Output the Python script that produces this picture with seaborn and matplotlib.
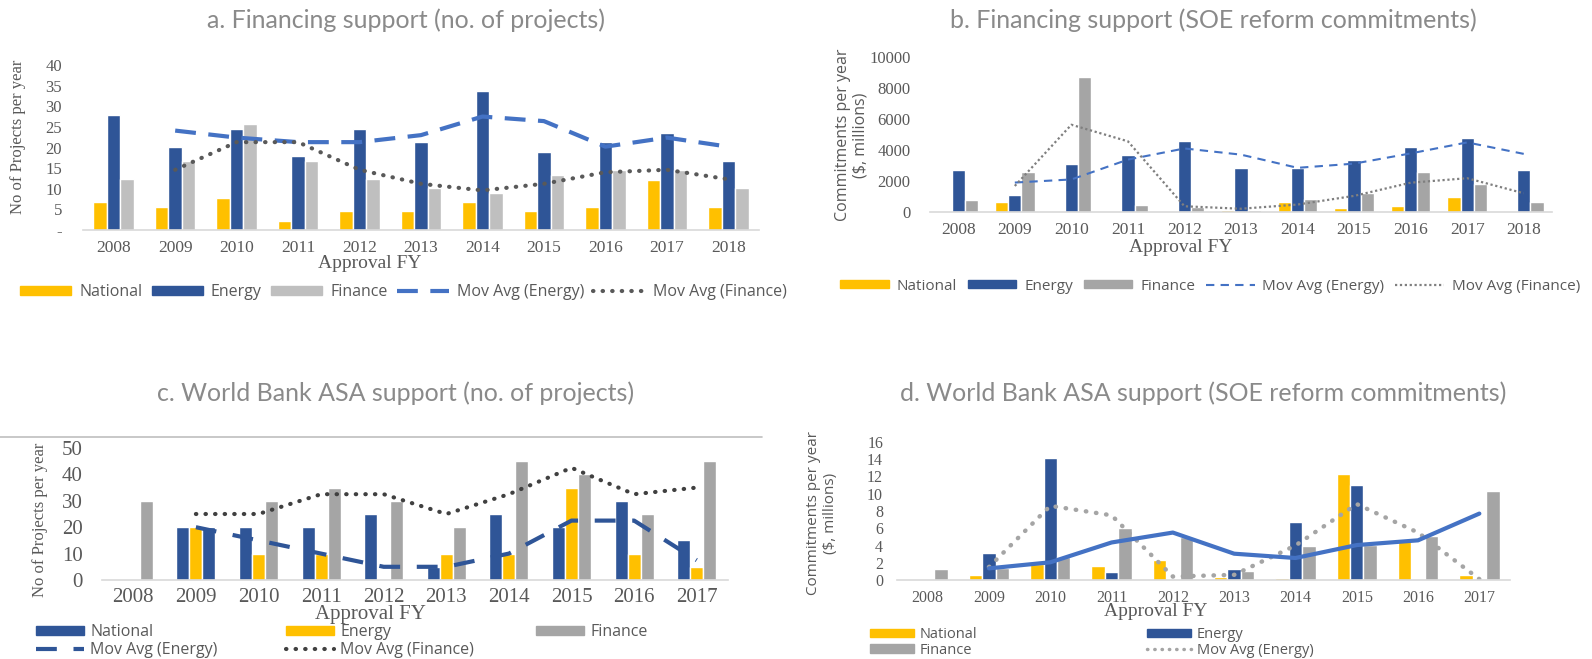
import numpy as np
import pandas as pd
import matplotlib
matplotlib.use("Agg")
import matplotlib.pyplot as plt
import seaborn as sns
from matplotlib.patches import Patch
from matplotlib.lines import Line2D

# -------------------------------
# Data
# -------------------------------
years_ab = ["2008", "2009", "2010", "2011", "2012", "2013", "2014", "2015", "2016", "2017", "2018"]
years_cd = ["2008", "2009", "2010", "2011", "2012", "2013", "2014", "2015", "2016", "2017"]
mov_years_ab = years_ab[1:]
mov_years_cd = years_cd[1:]

# a. Financing support (no. of projects)
a_national = [6.7, 5.6, 7.8, 2.2, 4.5, 4.5, 6.7, 4.5, 5.6, 12.2, 5.6]
a_energy = [28.0, 20.2, 24.6, 17.9, 24.6, 21.3, 33.7, 19.0, 21.3, 23.5, 16.8]
a_finance = [12.3, 16.8, 25.8, 16.8, 12.3, 10.1, 9.0, 13.4, 14.6, 14.6, 10.1]
a_mov_energy = [24.1, 22.4, 21.3, 21.3, 23.0, 27.5, 26.4, 20.2, 22.4, 20.2]
a_mov_finance = [14.6, 21.3, 21.3, 14.6, 11.2, 9.6, 11.2, 14.0, 14.6, 12.3]
a_yticks = [0, 5, 10, 15, 20, 25, 30, 35, 40]
a_yticklabels = ["-", "5", "10", "15", "20", "25", "30", "35", "40"]

# b. Financing support (SOE reform commitments, $ millions)
b_national = [80, 620, 80, 0, 0, 130, 620, 250, 400, 1000, 60]
b_energy = [2700, 1100, 3100, 3650, 4550, 2850, 2850, 3380, 4180, 4800, 2700]
b_finance = [800, 2550, 8700, 420, 320, 100, 850, 1230, 2550, 1800, 620]
b_mov_energy = [1900, 2100, 3380, 4100, 3700, 2850, 3120, 3780, 4490, 3750]
b_mov_finance = [1680, 5630, 4560, 370, 210, 480, 1040, 1890, 2180, 1210]
b_yticks = [0, 2000, 4000, 6000, 8000, 10000]

# c. World Bank ASA support (no. of projects)
c_national = [0, 20, 20, 20, 25, 5, 25, 20, 30, 15]
c_energy = [0, 20, 10, 10, 0, 10, 10, 35, 10, 5]
c_finance = [30, 20, 30, 35, 30, 20, 45, 40, 25, 45]
c_mov_energy = [20, 15, 10, 5, 5, 10, 22.5, 22.5, 7.5]
c_mov_finance = [25, 25, 32.5, 32.5, 25, 32.5, 42.5, 32.5, 35]
c_yticks = [0, 10, 20, 30, 40, 50]

# d. World Bank ASA support (SOE reform commitments, $ millions)
d_national = [0, 0.6, 1.8, 1.6, 2.3, 0.3, 0.2, 12.3, 4.5, 0.6]
d_energy = [0, 3.1, 14.1, 0.9, 0, 1.3, 6.7, 11.0, 0, 0]
d_finance = [1.3, 1.4, 2.7, 6.0, 5.0, 1.1, 4.0, 4.1, 5.1, 10.3]
d_mov_energy = [1.5, 8.6, 7.5, 0.4, 0.6, 4.0, 8.8, 5.5, 0.1]
d_mov_finance = [1.35, 2.05, 4.35, 5.5, 3.05, 2.55, 4.05, 4.6, 7.7]
d_yticks = [0, 2, 4, 6, 8, 10, 12, 14, 16]

# -------------------------------
# Style
# -------------------------------
YELLOW = "#FFC000"
DBLUE = "#2F5597"
MBLUE = "#4472C4"
LGRAY = "#BFBFBF"
GRAY = "#A5A5A5"
TXT = "#595959"
TITLE = "#8A8A8A"
SERIF = "Liberation Serif"
SANS = "Open Sans"
TITLE_FONT = "Lato"

sns.set_theme(style="white")
plt.rcParams["font.family"] = [SANS, "DejaVu Sans"]

W, H = 1592, 659
fig = plt.figure(figsize=(W / 100, H / 100), dpi=100)


def add_axes(left, right, top, bottom):
    return fig.add_axes([left / W, 1 - bottom / H, (right - left) / W, (bottom - top) / H])


def bars(ax, years, series, names, colors, width):
    df = pd.DataFrame({
        "year": np.tile(years, len(series)),
        "series": np.repeat(names, len(years)),
        "value": np.concatenate([np.asarray(s, dtype=float) for s in series]),
    })
    sns.barplot(data=df, x="year", y="value", hue="series", hue_order=names,
                palette=colors, width=width, gap=0, saturation=1, ax=ax,
                legend=False, errorbar=None)


def style_axes(ax, yticks, ylabels, ytick_size, xtick_size, ypad, xpad):
    for s in ["top", "right", "left"]:
        ax.spines[s].set_visible(False)
    ax.spines["bottom"].set_color("#D9D9D9")
    ax.spines["bottom"].set_linewidth(1.2)
    ax.set_yticks(yticks)
    ax.set_yticklabels(ylabels)
    ax.set_ylim(yticks[0], yticks[-1])
    ax.tick_params(axis="both", length=0, colors=TXT)
    ax.tick_params(axis="y", pad=ypad, labelsize=ytick_size)
    ax.tick_params(axis="x", pad=xpad, labelsize=xtick_size)
    for lab in ax.get_xticklabels() + ax.get_yticklabels():
        lab.set_fontfamily(SERIF)
    ax.set_xlabel("")
    ax.set_ylabel("")
    ax.grid(False)


def pos(years, sub):
    return [years.index(y) for y in sub]


def title(x, y, s):
    fig.text(x / W, 1 - y / H, s, ha="center", va="center", fontsize=18,
             color=TITLE, family=TITLE_FONT, fontweight="normal")


# -------------------------------
# a. Financing support (no. of projects)
# -------------------------------
ax = add_axes(83, 759, 65, 230)
bars(ax, years_ab, [a_national, a_energy, a_finance], ["National", "Energy", "Finance"],
     [YELLOW, DBLUE, LGRAY], 0.66)
ax.plot(pos(years_ab, mov_years_ab), a_mov_energy, color=MBLUE, lw=3, dashes=(5, 3))
ax.plot(pos(years_ab, mov_years_ab), a_mov_finance, color=TXT, lw=3,
        linestyle=(0, (0.1, 2.2)), dash_capstyle="round")
ax.set_xlim(-0.5, len(years_ab) - 0.5)
style_axes(ax, a_yticks, a_yticklabels, 12, 12.5, 15, 7)
ax.set_xticks(np.arange(-0.5, len(years_ab), 1), minor=True)
ax.tick_params(axis="x", which="minor", length=5, color="#D9D9D9", width=1.2)
ax.legend(handles=[
    Patch(color=YELLOW, label="National"),
    Patch(color=DBLUE, label="Energy"),
    Patch(color=LGRAY, label="Finance"),
    Line2D([], [], color=MBLUE, lw=3, dashes=(5, 3), label="Mov Avg (Energy)"),
    Line2D([], [], color=TXT, lw=3, linestyle=(0, (0.1, 2.2)), dash_capstyle="round",
           label="Mov Avg (Finance)"),
], ncol=5, frameon=False, loc="center left", bbox_to_anchor=(20 / W, 1 - 292 / H),
    bbox_transform=fig.transFigure, fontsize=11.5, labelcolor=TXT, handlelength=3.2,
    handleheight=0.5, handletextpad=0.5, columnspacing=0.6, borderaxespad=0, borderpad=0)
fig.text(370 / W, 1 - 263 / H, "Approval FY", ha="center", va="center",
         fontsize=14, color=TXT, family=SERIF)
fig.text(18 / W, 1 - 137 / H, "No of Projects per year", rotation=90, ha="center",
         va="center", fontsize=12, color=TXT, family=SERIF)
title(406, 20, "a. Financing support (no. of projects)")

# -------------------------------
# b. Financing support (SOE reform commitments)
# -------------------------------
ax = add_axes(930, 1552, 57, 212)
bars(ax, years_ab, [b_national, b_energy, b_finance], ["National", "Energy", "Finance"],
     [YELLOW, DBLUE, GRAY], 0.7)
ax.plot(pos(years_ab, mov_years_ab), b_mov_energy, color=MBLUE, lw=1.5, dashes=(4, 3))
ax.plot(pos(years_ab, mov_years_ab), b_mov_finance, color="#7F7F7F", lw=1.6,
        linestyle=(0, (1, 1.2)))
ax.set_xlim(-0.5, len(years_ab) - 0.5)
style_axes(ax, b_yticks, [str(v) for v in b_yticks], 12, 12.5, 14, 7)
ax.legend(handles=[
    Patch(color=YELLOW, label="National"),
    Patch(color=DBLUE, label="Energy"),
    Patch(color=GRAY, label="Finance"),
    Line2D([], [], color=MBLUE, lw=1.5, dashes=(4, 3), label="Mov Avg (Energy)"),
    Line2D([], [], color="#7F7F7F", lw=1.6, linestyle=(0, (1, 1.2)), label="Mov Avg (Finance)"),
], ncol=5, frameon=False, loc="center left", bbox_to_anchor=(840 / W, 1 - 286 / H),
    bbox_transform=fig.transFigure, fontsize=11, labelcolor=TXT, handlelength=3.2,
    handleheight=0.5, handletextpad=0.5, columnspacing=0.7, borderaxespad=0, borderpad=0)
fig.text(1181 / W, 1 - 247 / H, "Approval FY", ha="center", va="center",
         fontsize=14, color=TXT, family=SERIF)
fig.text(852 / W, 1 - 135 / H, "Commitments per year\n($, millions)", rotation=90,
         ha="center", va="center", fontsize=11.5, color=TXT, linespacing=1.1)
title(1213, 20, "b. Financing support (SOE reform commitments)")

# -------------------------------
# c. World Bank ASA support (no. of projects)
# -------------------------------
ax = add_axes(102, 728, 448, 580)
bars(ax, years_cd, [c_national, c_energy, c_finance], ["National", "Energy", "Finance"],
     [DBLUE, YELLOW, GRAY], 0.62)
# 2009 finance bar is drawn blue in the original
ax.containers[2][years_cd.index("2009")].set_facecolor(DBLUE)
ax.plot(pos(years_cd, mov_years_cd), c_mov_energy, color=DBLUE, lw=3, dashes=(5, 4))
ax.plot(pos(years_cd, mov_years_cd), c_mov_finance, color="#404040", lw=3,
        linestyle=(0, (0.1, 2.2)), dash_capstyle="round")
ax.set_xlim(-0.5, len(years_cd) - 0.5)
style_axes(ax, c_yticks, [str(v) for v in c_yticks], 15, 15, 14, 6)
col_handles = [
    [Patch(color=DBLUE, label="National"),
     Line2D([], [], color=DBLUE, lw=3, dashes=(5, 4), label="Mov Avg (Energy)")],
    [Patch(color=YELLOW, label="Energy"),
     Line2D([], [], color="#404040", lw=3, linestyle=(0, (0.1, 2.2)),
            dash_capstyle="round", label="Mov Avg (Finance)")],
    [Patch(color=GRAY, label="Finance")],
]
for x0, hs in zip([36, 286, 536], col_handles):
    fig.legend(handles=hs, ncol=1, frameon=False, loc="upper left",
               bbox_to_anchor=(x0 / W, 1 - 624 / H), fontsize=11.5, labelcolor=TXT,
               handlelength=3.0, handleheight=0.5, handletextpad=0.4,
               labelspacing=0.12, borderaxespad=0, borderpad=0)
fig.text(370 / W, 1 - 615 / H, "Approval FY", ha="center", va="center",
         fontsize=15, color=TXT, family=SERIF)
fig.text(40 / W, 1 - 520 / H, "No of Projects per year", rotation=90, ha="center",
         va="center", fontsize=12, color=TXT, family=SERIF)
fig.add_artist(Line2D([0, 762 / W], [1 - 437 / H, 1 - 437 / H], color="#BFBFBF",
                      lw=1.2, transform=fig.transFigure))
title(396, 393, "c. World Bank ASA support (no. of projects)")

# -------------------------------
# d. World Bank ASA support (SOE reform commitments)
# -------------------------------
ax = add_axes(897, 1510, 442, 580)
bars(ax, years_cd, [d_national, d_energy, d_finance], ["National", "Energy", "Finance"],
     [YELLOW, DBLUE, GRAY], 0.66)
ax.plot(pos(years_cd, mov_years_cd), d_mov_energy, color=GRAY, lw=3.2,
        linestyle=(0, (0.1, 2.2)), dash_capstyle="round")
ax.plot(pos(years_cd, mov_years_cd), d_mov_finance, color=MBLUE, lw=3)
ax.set_xlim(-0.5, len(years_cd) - 0.5)
style_axes(ax, d_yticks, [str(v) for v in d_yticks], 11.5, 11.5, 10, 7)
col_handles = [
    [Patch(color=YELLOW, label="National"), Patch(color=GRAY, label="Finance")],
    [Patch(color=DBLUE, label="Energy"),
     Line2D([], [], color=GRAY, lw=2.5, linestyle=(0, (0.1, 2.0)),
            dash_capstyle="round", label="Mov Avg (Energy)")],
]
for x0, hs in zip([870, 1147], col_handles):
    fig.legend(handles=hs, ncol=1, frameon=False, loc="upper left",
               bbox_to_anchor=(x0 / W, 1 - 627 / H), fontsize=10.5, labelcolor=TXT,
               handlelength=3.0, handleheight=0.5, handletextpad=0.4,
               labelspacing=0.05, borderaxespad=0, borderpad=0)
fig.text(1156 / W, 1 - 612 / H, "Approval FY", ha="center", va="center",
         fontsize=14, color=TXT, family=SERIF)
fig.text(822 / W, 1 - 513 / H, "Commitments per year\n($, millions)", rotation=90,
         ha="center", va="center", fontsize=11, color=TXT, linespacing=1.1)
title(1203, 393, "d. World Bank ASA support (SOE reform commitments)")

fig.savefig("out.png", dpi=100)
